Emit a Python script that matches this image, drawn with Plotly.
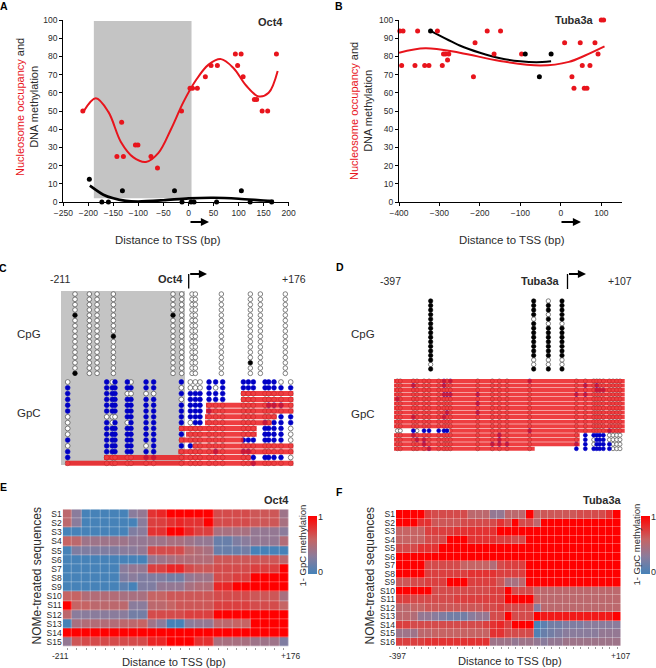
import plotly.graph_objects as go

W, H = 656, 668
INK = '#2b2b2b'
RED = '#e8141c'
BLUE = '#0000c4'
GREY = '#c4c4c4'
SCALE = [[0, '#4682b8'], [0.3, '#8a7c9c'], [0.6, '#c66464'], [1, '#ff0000']]

# ---- panel A, Oct4 dot plot
a_red_x = [-211, -143, -133.5, -130, -106, -101, -75, -62, -14, 3, 8, 17.6, 33.6, 45, 57.6, 93.5, 98, 105, 109, 131.5, 136, 147, 158, 175.5]
a_red_y = [50, 25, 43.8, 25, 31.3, 31.3, 25, 18.7, 50, 62.5, 62.5, 62.5, 68.8, 75, 75, 81.3, 75, 81.3, 68.8, 56.3, 56.3, 50, 50, 81.3]
a_blk_x = [-198, -173, -160, -132, -28, -13, 5, 11, 56, 105.5, 123, 166]
a_blk_y = [12.5, 0, 0, 6.25, 6.25, 0, 0, 0, 0, 6.25, 0, 0]
a_red_curve_x = [-209, -185, -160, -135, -110, -85, -60, -35, -10, 15, 40, 65, 90, 115, 140, 160, 178]
a_red_curve_y = [50, 57, 49.5, 33, 24.5, 22, 27, 40, 55, 67, 75.5, 78.5, 73.5, 64, 58, 60, 72]
a_blk_curve_x = [-197, -170, -150, -125, -100, -50, 0, 50, 100, 150, 170]
a_blk_curve_y = [9, 4, 2, 0.6, 0.3, 1, 2, 2.3, 1.8, 0.8, 0.5]

# ---- panel B, Tuba3a dot plot
b_red_x = [-398, -390, -393.5, -360.5, -354, -336.5, -326, -305, -293, -290, -285, -277, -280, -216, -212, -182, -165, -149, -97, 9.4, 27.5, 32.5, 48, 53, 58, 64.6, 72, 84.4, 92, 100, 105.8]
b_red_y = [94, 94, 75, 75, 94, 75, 75, 94, 75, 81.3, 81.3, 81.3, 78, 68.8, 87.5, 94, 81.3, 94, 81.3, 87.5, 68.8, 62.5, 87.5, 75, 62.5, 62.5, 75, 87.5, 81.3, 100, 100]
b_blk_x = [-322, -88, -53, -24]
b_blk_y = [94, 81.3, 68.8, 81.3]
b_red_curve_x = [-400, -335, -250, -150, -50, 20, 60, 108]
b_red_curve_y = [82, 84.5, 82, 77.5, 75, 77, 80.5, 85.5]
b_blk_curve_x = [-322, -250, -200, -150, -100, -60, -24]
b_blk_curve_y = [94, 86, 82, 79, 77.3, 76.8, 77.3]

# ---- panel C, Oct4 lollipops. f = methylated, o = open, b = blue
c_cpg_pos = [-198.3, -173.4, -160, -131.7, -28.2, -13.2, 4.8, 10.6, 55.7, 106, 123.4, 166.7]
c_cpg_black = [(4, 0), (15, 0), (8, 3), (4, 4), (13, 9)]  # (row, column)
c_gpc_pos = [-211, -143.3, -133.5, -128.9, -107.5, -101.1, -75, -61.8, -13.7, 1.9, 10.6, 18.7, 34.3, 45.8, 58, 93.9, 102.5, 111.2, 131.5, 137.8, 147.1, 159.2, 176]
c_gpc_rows = [
    'obob bo bb b ooo bbb bbb bbb oo',
    'bbbb bb bb o ooo bob bbb bbb bb',
    'bbbb oo oo b bbb bbb ooo ooo oo',
    'bbbb bb bb o bbb bbb ooo ooo oo',
    'bbbb bb bb b bbb ooo ooo obb bo',
    'bbbb bb bb b bbb boo ooo ooo oo',
    'oooo bb bb b bbb ooo ooo ooo bb',
    'obob ob bb b obb ooo ooo bob bb',
    'obbb bb bb o ooo ooo ooo bbb bo',
    'obbb bb bb b ooo ooo ooo bbb bo',
    'bbbb bb bb o ooo ooo bbb bbb bo',
    'obbb bb ob b boo ooo ooo ooo oo',
    'bbbb bb bb o ooo obo bbo ooo oo',
    'booo oo bb o ooo ooo oob bbb bo',
    'oooo oo oo o ooo ooo oob ooo oo',
]
c_bar_rows = [2, 3, 4, 5, 6, 7, 8, 9, 10, 11, 12, 13, 14]
c_bar_start = [89.8, 89.8, 29, 29, 27.3, 27.3, -17.8, -5.6, -17.8, 5.9, -19, -148, -215]
c_bar_end = [180.6, 180.6, 180.6, 180.6, 151.7, 143, 117, 117, 94, 180.6, 180.6, 106.6, 180.6]

# ---- panel D, Tuba3a lollipops
d_cpg_pos = [-321.6, -88.4, -55.2, -24.3]
d_cpg_open = [(14, 0), (4, 1), (13, 1), (14, 1), (0, 2), (3, 2), (5, 2), (13, 2), (14, 2), (5, 3), (13, 3), (14, 3)]
d_gpc_pos = [-397, -390.2, -360.8, -352.5, -336.6, -325.3, -303.4, -291.4, -284.6, -277, -215.2, -182, -166.1, -148.8, -97.5, 8.2, 28.5, 47.4, 54.2, 61, 69.3, 82.9, 91.2, 99.5, 107]
d_gpc_rows = [
    'ooooooobob oooob oooooooooo',
    'oobooooboo ooooo oboboooooo',
    'oooooooooo ooooo ooobbboooo',
    'ooooooobbb boooo bboooooooo',
    'booooooooo ooooo oooooooooo',
    'oooooooooo boooo oooooooooo',
    'oooooooooo ooooo oooooooooo',
    'oooooooobo boooo oooooooooo',
    'oobooooboo ooooo oooooooooo',
    'oooooooooo ooooo oooooooooo',
    'oooooooooo ooooo oooooooooo',
    'oobobbbbbo oooob oooooobooo',
    'oobooooooo ooboo obbbbboooo',
    'ooobbooooo ooboo obobbboooo',
    'oooobooooo obbbo bbobbbbooo',
    'oooooboooo ooooo bbbbbbbooo',
]
d_bar_rows = list(range(16))
d_bar_start = [-404.5] * 11 + [-278.5, -404.5, -404.5, -404.5, -404.5]
d_bar_end = [117.6] * 12 + [15.7, 15.7, 15.7, -86.1]

# ---- panel E, Oct4 heatmap
e_labels = ['S%d' % i for i in range(1, 16)]
e_values = [
    [.55, .3, 0, 0, 0, 0, 0, .3, .35, .8, .85, 1, 1, 1, 1, 1, .7, .7, .7, .7, .65, .65, .65, .4],
    [.55, .3, 0, 0, 0, 0, 0, 0, .3, .75, .75, .8, .85, .8, .8, 1, .7, .7, .7, .7, .65, .65, .65, .45],
    [0, 0, 0, 0, 0, 0, 0, .25, .3, .8, .8, 1, 1, .85, .75, .75, .45, .45, .45, .45, .35, .35, .35, .3],
    [.6, .55, .4, .4, .4, .4, .4, .35, .35, .4, .4, .45, .45, .4, .35, .35, .15, .15, .25, .3, .35, .35, .35, .5],
    [0, .25, .25, .25, .25, .25, .3, .3, .35, .7, .7, .7, .7, .55, .5, .45, .15, .15, .15, .2, 0, 0, 0, 0],
    [0, 0, 0, 0, 0, 0, 0, 0, 0, .35, .4, .45, .5, .5, .5, .5, .65, .65, .65, .65, .65, .65, .65, .55],
    [0, 0, 0, 0, 0, 0, .3, .35, .35, .75, .75, .85, .85, .7, .65, .65, .7, .7, .7, .7, .75, .75, .75, 1],
    [0, 0, 0, 0, 0, 0, .25, .3, .25, .25, .25, .2, .2, .35, .4, .4, .7, .7, .75, .75, 1, 1, 1, 1],
    [0, 0, 0, 0, 0, 0, .1, 0, .25, .25, .35, .35, .35, .45, .5, .5, .85, .85, 1, 1, 1, 1, 1, 1],
    [.6, .6, .5, .5, .5, .5, .45, .45, .45, .6, .6, .65, .65, .65, .65, .65, .7, .7, .7, .7, .65, .65, .65, .45],
    [1, .6, .6, .55, .55, .55, .55, .3, .3, .55, .55, .6, .65, .65, .65, .65, .75, .75, .75, .75, .7, .7, .7, .6],
    [.55, .3, .3, .3, .3, .3, .3, .2, .2, .7, .7, .7, .7, .75, .75, .75, 1, 1, 1, 1, 1, 1, 1, 1],
    [0, .45, .5, .5, .5, .5, .55, .55, .6, .4, .3, 0, 0, .3, .35, .35, .55, .55, .6, .6, 1, 1, 1, 1],
    [1, 1, 1, 1, 1, 1, 1, 1, 1, 1, 1, 1, 1, 1, 1, 1, 1, 1, 1, 1, 1, 1, 1, 1],
    [.35, .65, .7, .7, .7, .7, .7, .7, .7, .85, .85, 1, 1, 1, .8, .8, .45, .45, .45, .45, .4, .4, .4, .25],
]

# ---- panel F, Tuba3a heatmap
f_labels = ['S%d' % i for i in range(1, 17)]
f_values = [
    [1, 1, 1, 1, .75, .7, .7, .7, .7, .7, .55, .55, .55, .35, .35, .55, .55, .55, 1, .6, .65, .65, .65, .65, .65, .7, .7, .7, .7, .8, 1],
    [1, 1, 1, .8, .8, .65, .65, .65, .65, .7, .7, .7, .7, .7, .8, .7, 1, .7, .7, .55, 1, 1, 1, 1, 1, 1, 1, 1, 1, 1, 1],
    [.6, .6, .6, .6, .75, .75, .75, .75, .8, .8, .8, .8, .8, .8, 1, 1, 1, 1, 1, 1, 1, 1, 1, 1, 1, 1, 1, 1, 1, 1, 1],
    [.6, .6, .6, .6, .7, .7, .7, 1, 1, 1, .8, .8, .8, .8, .75, .75, .7, .7, 1, 1, 1, 1, 1, 1, 1, 1, 1, 1, 1, 1, 1],
    [.7, .7, .7, .8, .8, .8, 1, 1, 1, 1, 1, 1, 1, 1, 1, 1, 1, 1, 1, 1, 1, 1, 1, 1, 1, 1, 1, 1, 1, 1, 1],
    [1, 1, 1, 1, 1, 1, 1, 1, 1, 1, 1, 1, 1, 1, 1, 1, 1, 1, 1, 1, 1, 1, 1, 1, 1, 1, 1, 1, 1, 1, 1],
    [1, 1, 1, 1, .7, .7, .7, .7, .7, .6, .6, .6, .6, .5, .7, .75, .75, .75, 1, 1, 1, 1, 1, 1, 1, 1, 1, 1, 1, 1, 1],
    [1, 1, 1, 1, .75, .75, .75, .75, .75, .75, .8, .8, .8, .8, .75, .75, .75, .75, 1, 1, 1, 1, 1, 1, 1, 1, 1, 1, 1, 1, 1],
    [.65, .65, .7, .7, .75, .75, .75, 1, 1, 1, .75, .75, .75, .75, .65, .45, .45, .55, 1, 1, 1, 1, 1, 1, 1, 1, 1, 1, 1, 1, 1],
    [1, 1, 1, 1, 1, .7, .7, .7, .7, .7, .7, .7, .7, .75, .75, 1, .7, .7, .7, .55, .55, .55, .55, .55, .55, .55, .55, .55, .55, .55, .55],
    [.75, .75, .7, .7, .7, .7, .7, .7, .75, .75, .75, .75, .75, .75, .75, 1, 1, 1, 1, .6, .55, .55, .55, .55, .55, .55, .55, .55, .55, .55, .55],
    [.55, .55, .6, .6, .65, .65, .65, .65, .65, .65, .65, .65, .7, .7, .75, .7, .7, .7, .7, .3, .55, .55, .55, .55, .55, .55, .55, .55, .55, .55, .55],
    [.55, .55, .5, .35, .35, .3, .25, .2, .2, .2, .3, .35, .35, .7, .7, 1, .7, .7, .7, 1, .9, .9, .9, .9, .9, .9, .9, .9, .9, .9, 1],
    [.75, .75, .7, .7, .7, .7, .7, .7, .7, .7, .7, .7, .75, .8, .85, .75, 1, 1, 1, 0, .1, .2, .2, .25, .25, .25, .3, .3, .3, .3, .3],
    [.4, .4, .4, .55, .55, .6, .6, .6, .6, .6, .6, .6, .6, .8, .8, .7, .7, .7, .7, .05, .15, .2, .25, .3, .3, .3, .3, .3, .35, .35, .35],
    [.75, .75, .75, .75, .8, .8, .8, .8, .8, .8, .8, .8, .8, .4, .4, .4, .35, .4, .4, .35, .3, .35, .35, .4, .4, .4, .4, .4, .4, .4, .4],
]


def fx(px):
    return px / W


def fy(px):
    return 1 - px / H


layout = dict(width=W, height=H, margin=dict(l=0, r=0, t=0, b=0, autoexpand=False), paper_bgcolor='white',
              plot_bgcolor='rgba(0,0,0,0)', showlegend=False, font=dict(family='Liberation Sans', color=INK))
notes = []
shapes = []
fig = go.Figure()


def axes(n, left, right, top, bottom, xkw, ykw):
    # n-th axis pair, given by where it sits on the page in pixels
    s = '' if n == 1 else str(n)
    base = dict(showgrid=False, zeroline=False, showline=False, ticks='', showticklabels=False)
    layout['xaxis' + s] = {**base, 'domain': [fx(left), fx(right)], 'anchor': 'y' + s, **xkw}
    layout['yaxis' + s] = {**base, 'domain': [fy(bottom), fy(top)], 'anchor': 'x' + s, **ykw}
    return 'x' + s, 'y' + s


def text(x, y, t, size=11, bold=False, angle=0, color=INK):
    if bold:
        t = '<b>%s</b>' % t
    notes.append(dict(x=fx(x), y=fy(y), xref='paper', yref='paper', text=t, showarrow=False, textangle=angle,
                      font=dict(size=size, color=color), xanchor='center', yanchor='middle'))


def arrow(x0, x1, y):
    notes.append(dict(x=fx(x1), y=fy(y), xref='paper', yref='paper', ax=x0 - x1, ay=0, axref='pixel', ayref='pixel', text='', showarrow=True,
                      arrowhead=2, arrowsize=0.9, arrowwidth=1.8, arrowcolor='black'))


def dot_plot(n, left, right, xrange, xticks, red, black, red_curve, black_curve, black_width):
    line = dict(showline=True, linecolor='black', linewidth=1.3, ticks='outside', ticklen=3, tickcolor='black',
                showticklabels=True, tickangle=0, tickfont=dict(size=8.5, color=INK))
    x, y = axes(n, left, right, 20, 202, dict(range=xrange, tickvals=xticks, **line),
                dict(range=[0, 100], tickvals=list(range(0, 101, 10)), **line))
    fig.add_trace(go.Scatter(x=black_curve[0], y=black_curve[1], mode='lines', xaxis=x, yaxis=y, cliponaxis=False,
                             line=dict(color='black', width=black_width, shape='spline', smoothing=0.8)))
    fig.add_trace(go.Scatter(x=red_curve[0], y=red_curve[1], mode='lines', xaxis=x, yaxis=y, cliponaxis=False,
                             line=dict(color=RED, width=2, shape='spline', smoothing=1)))
    fig.add_trace(go.Scatter(x=red[0], y=red[1], mode='markers', xaxis=x, yaxis=y, cliponaxis=False,
                             marker=dict(color=RED, size=5)))
    fig.add_trace(go.Scatter(x=black[0], y=black[1], mode='markers', xaxis=x, yaxis=y, cliponaxis=False,
                             marker=dict(color='black', size=5)))


def lollipop(n, left, right, xrange, top, bottom, rows, pos, cells, dot, bars=None, bar_width=5):
    # cells maps (row, column) to o/b/f, drawn as dots, red bars go over them
    x, y = axes(n, left, right, top, bottom, dict(range=xrange), dict(range=[rows - 0.5, -0.5]))
    for code, colour, edge in [('o', 'white', '#333333'), ('b', BLUE, BLUE), ('f', 'black', 'black')]:
        pick = [k for k in cells if cells[k] == code]
        fig.add_trace(go.Scatter(x=[pos[c] for r, c in pick], y=[r for r, c in pick], mode='markers', xaxis=x, yaxis=y,
                                 cliponaxis=False, marker=dict(color=colour, size=dot, line=dict(color=edge, width=0.6))))
    if bars:
        bx, by = [], []
        for r, a, b in zip(*bars):
            bx += [a, b, None]
            by += [r, r, None]
        fig.add_trace(go.Scatter(x=bx, y=by, mode='lines', xaxis=x, yaxis=y, cliponaxis=False,
                                 line=dict(color='rgba(235,28,32,0.85)', width=bar_width)))


def heat(n, left, right, top, bottom, values, labels, bar_left, bar_right):
    cols = len(values[0])
    x, y = axes(n, left, right, top, bottom,
                dict(range=[-0.5, cols - 0.5], tickvals=list(range(cols)), ticks='outside', ticklen=2, tickcolor='#999999', tickwidth=0.6),
                dict(range=[len(values) - 0.5, -0.5], tickvals=list(range(len(values))), ticktext=labels,
                     showticklabels=True, ticklen=0, tickfont=dict(size=8.5, color=INK)))
    fig.add_trace(go.Heatmap(z=values, xaxis=x, yaxis=y, colorscale=SCALE, zmin=0, zmax=1, xgap=0.3, ygap=0.3,
                             colorbar=dict(x=fx(bar_left), xanchor='left', y=fy(516), yanchor='top', len=57.5 / H, lenmode='fraction',
                                           thickness=bar_right - bar_left, thicknessmode='pixels', xpad=0, ypad=0,
                                           showticklabels=False, ticks='', outlinewidth=0)))
    text(bar_right + 3, 516.5, '1', size=9)
    text(bar_right + 3, 571.5, '0', size=9)


# A and B
dot_plot(1, 63.3, 288.7, [-250, 200], list(range(-250, 201, 50)), (a_red_x, a_red_y), (a_blk_x, a_blk_y),
         (a_red_curve_x, a_red_curve_y), (a_blk_curve_x, a_blk_curve_y), 2.6)
dot_plot(2, 399, 621.5, [-400, 150], list(range(-400, 101, 100)), (b_red_x, b_red_y), (b_blk_x, b_blk_y),
         (b_red_curve_x, b_red_curve_y), (b_blk_curve_x, b_blk_curve_y), 2)
shapes.append(dict(type='rect', xref='x', yref='y', x0=-189, x1=6, y0=2, y1=99.5, fillcolor=GREY, line_width=0, layer='below'))

red_span = '<span style="color:%s">Nucleosome occupancy</span> and<br>DNA methylation' % RED
text(27, 107, red_span, size=11, angle=-90)
text(361, 111, red_span, size=11, angle=-90)
text(270.5, 22.5, 'Oct4', size=11, bold=True)
text(574, 20, 'Tuba3a', size=11, bold=True)
text(168, 240, 'Distance to TSS (bp)', size=11.4)
text(512, 240, 'Distance to TSS (bp)', size=11.4)
arrow(189, 209, 222)
arrow(560, 581, 222)

# C
c_range = [-222.6, 186.4]
c_cpg = {(r, c): 'o' for r in range(16) for c in range(len(c_cpg_pos))}
c_cpg.update({k: 'f' for k in c_cpg_black})
c_gpc = {(r, c): v for r, row in enumerate(c_gpc_rows) for c, v in enumerate(row.replace(' ', ''))}
lollipop(3, 61, 296.67, c_range, 291.4, 376, 16, c_cpg_pos, c_cpg, 4.6)
lollipop(4, 61, 296.67, c_range, 379.1, 466.2, 15, c_gpc_pos, c_gpc, 4.8, (c_bar_rows, c_bar_start, c_bar_end), 5)
shapes.append(dict(type='rect', xref='paper', yref='paper', x0=fx(61), x1=fx(185), y0=fy(465), y1=fy(291),
                   fillcolor=GREY, line_width=0, layer='below'))
text(60, 279, '-211', size=10.5)
text(170, 279, 'Oct4', size=11, bold=True)
text(294, 279, '+176', size=10.5)
text(29, 334, 'CpG', size=11.5)
text(29, 413, 'GpC', size=11.5)

# D
d_range = [-410.6, 121.3]
d_cpg = {(r, c): 'f' for r in range(16) for c in range(len(d_cpg_pos))}
d_cpg.update({k: 'o' for k in d_cpg_open})
d_gpc = {(r, c): v for r, row in enumerate(d_gpc_rows) for c, v in enumerate(row.replace(' ', ''))}
lollipop(5, 391.33, 626.33, d_range, 298.7, 371.3, 16, d_cpg_pos, d_cpg, 4.4)
lollipop(6, 391.33, 626.33, d_range, 378.7, 451, 16, d_gpc_pos, d_gpc, 4, (d_bar_rows, d_bar_start, d_bar_end), 4)
text(390, 281, '-397', size=10.5)
text(540, 281, 'Tuba3a', size=11, bold=True)
text(620, 281, '+107', size=10.5)
text(363, 334, 'CpG', size=11.5)
text(363, 414, 'GpC', size=11.5)

for x0, y0, y1, x1 in [(188.7, 288.5, 274, 207), (567.5, 289, 274, 586)]:
    shapes.append(dict(type='line', xref='paper', yref='paper', x0=fx(x0), x1=fx(x0), y0=fy(y0), y1=fy(y1), line=dict(color='black', width=1.3)))
    arrow(x0, x1, y1)

# E and F
heat(7, 62.7, 288.7, 509.3, 646.7, e_values, e_labels, 308.3, 317.3)
heat(8, 396, 620.7, 510, 646, f_values, f_labels, 641.3, 650.3)
text(276.5, 500, 'Oct4', size=11, bold=True)
text(602, 500, 'Tuba3a', size=11, bold=True)
text(302, 545.5, '1- GpC methylation', size=9.5, angle=-90)
text(635.5, 545, '1- GpC methylation', size=9.5, angle=-90)
text(36, 576.5, 'NOMe-treated sequences', size=12, angle=-90)
text(369, 576.5, 'NOMe-treated sequences', size=12, angle=-90)
text(174, 662, 'Distance to TSS (bp)', size=11.2)
text(510, 661, 'Distance to TSS (bp)', size=11.2)
text(60.5, 656, '-211', size=8.5)
text(290, 656, '+176', size=8.5)
text(397, 655.5, '-397', size=8.5)
text(620, 655.5, '+107', size=8.5)

for x, y, letter in [(4, 6, 'A'), (339, 6, 'B'), (3, 268, 'C'), (340, 267, 'D'), (3, 487, 'E'), (339, 492, 'F')]:
    text(x, y, letter, size=10.5, bold=True, color='black')

fig.update_layout(**layout, annotations=notes, shapes=shapes)
# plotly's page keeps the browser's 8px body margin, drop it so pixels line up
fig.write_html("out.html", config=dict(displayModeBar=False), post_script="document.body.style.margin='0'")
